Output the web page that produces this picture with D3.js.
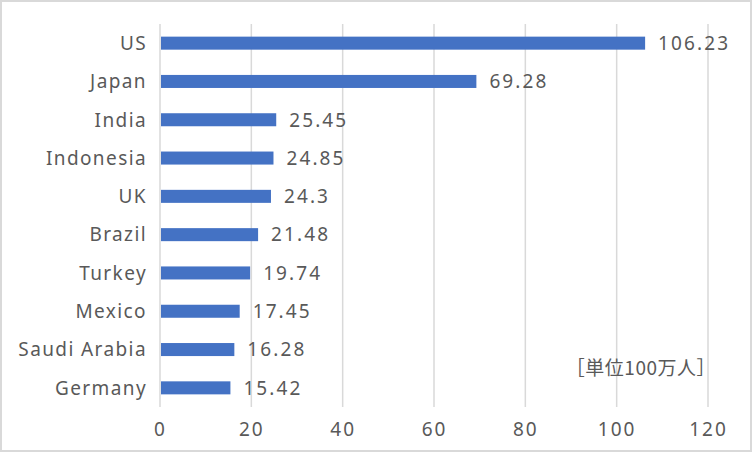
<!DOCTYPE html>
<html lang="ja">
<head>
<meta charset="utf-8">
<script src="https://cdn.jsdelivr.net/npm/d3@7"></script>
<style>
  body { margin: 0; background: #fff; }
  text { font-family: "Noto Sans", "Noto Sans CJK JP", sans-serif; fill: #595959; }
</style>
</head>
<body>
<script>
var countries = ["US", "Japan", "India", "Indonesia", "UK", "Brazil", "Turkey", "Mexico", "Saudi Arabia", "Germany"];
var values = [106.23, 69.28, 25.45, 24.85, 24.3, 21.48, 19.74, 17.45, 16.28, 15.42];
var tickValues = [0, 20, 40, 60, 80, 100, 120];
var unitLabel = "［単位100万人］";

var w = 752, h = 452;
var plotLeft = 160, plotRight = 708, plotTop = 24, plotBottom = 407;
var fontSize = "19px";

var svg = d3.select("body").append("svg")
  .attr("width", w).attr("height", h);

// outer frame
svg.append("rect")
  .attr("x", 1).attr("y", 1)
  .attr("width", w - 2).attr("height", h - 2)
  .attr("fill", "#fff").attr("stroke", "#d9d9d9").attr("stroke-width", 2);

var x = d3.scaleLinear().domain([0, 120]).range([plotLeft, plotRight]);
var y = d3.scaleBand().domain(countries).range([plotTop, plotBottom]).paddingInner(0.66).paddingOuter(0.33);

// gridlines
svg.selectAll("line.grid")
  .data(tickValues)
  .enter().append("line")
  .attr("class", "grid")
  .attr("x1", function(d){ return x(d); })
  .attr("x2", function(d){ return x(d); })
  .attr("y1", plotTop).attr("y2", plotBottom)
  .attr("stroke", "#d9d9d9").attr("stroke-width", 1.5);

// bars
svg.selectAll("rect.bar")
  .data(values)
  .enter().append("rect")
  .attr("class", "bar")
  .attr("x", x(0) + 1)
  .attr("y", function(d, i){ return y(countries[i]); })
  .attr("width", function(d){ return x(d) - x(0) - 1; })
  .attr("height", y.bandwidth())
  .attr("fill", "#4472c4");

// value labels
svg.selectAll("text.val")
  .data(values)
  .enter().append("text")
  .attr("class", "val")
  .attr("x", function(d){ return x(d) + 13; })
  .attr("y", function(d, i){ return y(countries[i]) + y.bandwidth() / 2; })
  .attr("dy", "0.36em")
  .attr("font-size", fontSize)
  .attr("letter-spacing", "2.1px")
  .text(function(d){ return d; });

// category labels
svg.selectAll("text.cat")
  .data(countries)
  .enter().append("text")
  .attr("class", "cat")
  .attr("x", plotLeft - 13)
  .attr("y", function(d){ return y(d) + y.bandwidth() / 2; })
  .attr("dy", "0.36em")
  .attr("text-anchor", "end")
  .attr("font-size", fontSize)
  .attr("letter-spacing", "1.4px")
  .text(function(d){ return d; });

// x axis tick labels
var xAxis = d3.axisBottom(x).tickValues(tickValues).tickSize(0).tickPadding(0);
var gx = svg.append("g").attr("transform", "translate(0," + (plotBottom + 15) + ")").call(xAxis);
gx.select(".domain").remove();
gx.selectAll("text")
  .attr("font-size", fontSize)
  .attr("letter-spacing", "2px")
  .attr("dy", "0.71em")
  .style("font-family", "\"Noto Sans\", sans-serif")
  .attr("fill", "#595959");

// unit label
svg.append("text")
  .attr("x", 716).attr("y", 368)
  .attr("dy", "0.36em")
  .attr("text-anchor", "end")
  .attr("font-size", "19px")
  .attr("letter-spacing", "0.5px")
  .style("font-family", "\"Noto Sans CJK JP\", sans-serif")
  .text(unitLabel);
</script>
</body>
</html>
